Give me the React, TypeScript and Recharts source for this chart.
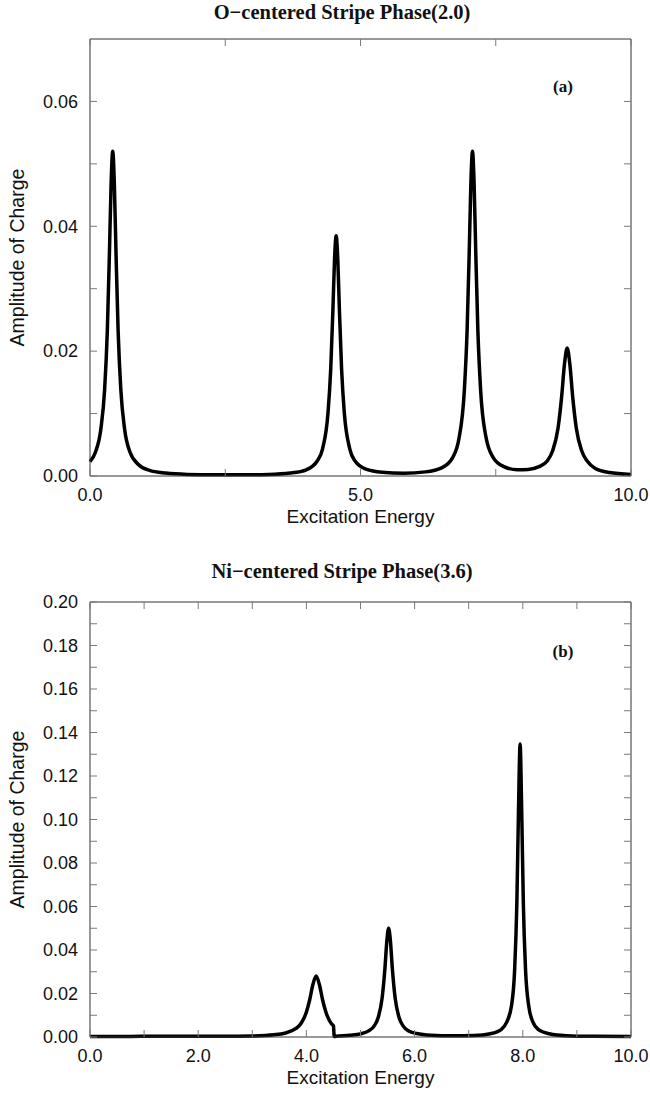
import { LineChart, Line, XAxis, YAxis, ReferenceLine } from "recharts";

// panel (a): O-centered stripe phase
const energyA = [
  0, 0.1, 0.2, 0.27, 0.32, 0.36, 0.39, 0.42, 0.45, 0.48, 0.52, 0.57, 0.64, 0.74, 0.9, 1.1, 1.4, 1.8,
  2.3, 2.8, 3.3, 3.7, 4.0, 4.2, 4.3, 4.4, 4.45, 4.49, 4.52, 4.55, 4.58, 4.61, 4.65, 4.7, 4.8, 4.9,
  5.1, 5.4, 5.8, 6.2, 6.5, 6.7, 6.82, 6.92, 6.97, 7.01, 7.04, 7.07, 7.1, 7.13, 7.17, 7.22, 7.32,
  7.45, 7.65, 7.9, 8.1, 8.3, 8.45, 8.55, 8.65, 8.72, 8.77, 8.82, 8.87, 8.92, 8.99, 9.09, 9.19, 9.34,
  9.6, 10,
];
const amplitudeA = [
  0.0023, 0.0038, 0.0075, 0.0138, 0.0232, 0.036, 0.0468, 0.052, 0.0468, 0.036, 0.0232, 0.0138,
  0.0075, 0.0038, 0.0018, 0.0009, 0.00047, 0.00026, 0.0002, 0.0002, 0.00025, 0.00047, 0.001, 0.0024,
  0.0044, 0.0102, 0.0172, 0.0266, 0.0347, 0.0385, 0.0347, 0.0266, 0.0172, 0.0102, 0.0044, 0.0024,
  0.0011, 0.0006, 0.00046, 0.00066, 0.0013, 0.0029, 0.006, 0.0138, 0.0232, 0.036, 0.0468, 0.052,
  0.0468, 0.036, 0.0232, 0.0138, 0.0062, 0.003, 0.0015, 0.001, 0.00105, 0.0015, 0.0024, 0.004,
  0.0076, 0.0129, 0.0179, 0.0205, 0.0179, 0.0129, 0.0076, 0.004, 0.0024, 0.0012, 0.00055, 0.00025,
];
const xTicksA = [0, 2.5, 5, 7.5, 10];
const xLabelsA = [0, 5, 10];
const yTicksA = [0, 0.01, 0.02, 0.03, 0.04, 0.05, 0.06];
const yLabelsA = [0, 0.02, 0.04, 0.06];

// panel (b): Ni-centered stripe phase
const energyB = [
  0, 0.5, 1, 1.5, 2, 2.5, 3, 3.4, 3.6, 3.8, 3.9, 4.0, 4.06, 4.12, 4.18, 4.24, 4.3, 4.36, 4.46, 4.5,
  4.515, 4.55, 4.8, 5.0, 5.15, 5.25, 5.33, 5.4, 5.45, 5.49, 5.52, 5.55, 5.59, 5.64, 5.71, 5.79, 5.89,
  6.04, 6.3, 6.7, 7.1, 7.4, 7.6, 7.7, 7.79, 7.85, 7.89, 7.92, 7.95, 7.98, 8.01, 8.05, 8.11, 8.19,
  8.29, 8.49, 8.8, 9.3, 10,
];
const amplitudeB = [
  0.0002, 0.0002, 0.0003, 0.0003, 0.0003, 0.0003, 0.00045, 0.001, 0.00175, 0.0038, 0.0062, 0.0115,
  0.017, 0.0241, 0.028, 0.0241, 0.017, 0.0115, 0.0062, 0.0051, 0.0002, 0.0003, 0.0008, 0.00145,
  0.0028, 0.005, 0.0092, 0.018, 0.031, 0.045, 0.05, 0.045, 0.031, 0.018, 0.0092, 0.005, 0.0028,
  0.0016, 0.0008, 0.00055, 0.0007, 0.0015, 0.0034, 0.0067, 0.0142, 0.0313, 0.0615, 0.1036, 0.1347,
  0.1036, 0.0615, 0.0313, 0.0142, 0.0067, 0.0034, 0.0015, 0.0006, 0.0003, 0.0002,
];
const xTicksB = [0, 1, 2, 3, 4, 5, 6, 7, 8, 9, 10];
const xLabelsB = [0, 2, 4, 6, 8, 10];
const yTicksB = [
  0, 0.01, 0.02, 0.03, 0.04, 0.05, 0.06, 0.07, 0.08, 0.09, 0.1, 0.11, 0.12, 0.13, 0.14, 0.15, 0.16,
  0.17, 0.18, 0.19, 0.2,
];
const yLabelsB = [0, 0.02, 0.04, 0.06, 0.08, 0.1, 0.12, 0.14, 0.16, 0.18, 0.2];

const W = 650;
const SANS = "'Liberation Sans', Arial, sans-serif";
const SERIF = "'Liberation Serif', 'Times New Roman', serif";
const FRAME = "#333";
const TICK = "#7a7a7a";
const TICK_LEN = 7;

const near = (list: number[], v: number) => list.some((l) => Math.abs(l - v) < 1e-9);

interface PanelProps {
  top: number;
  height: number;
  plotTop: number;
  plotBottom: number;
  title: string;
  titleY: number;
  tag: string;
  tagY: number;
  energy: number[];
  amplitude: number[];
  yMax: number;
  xTicks: number[];
  xLabels: number[];
  yTicks: number[];
  yLabels: number[];
}

function Panel(p: PanelProps) {
  const margin = { top: p.plotTop - p.top, right: 19, left: 0, bottom: 0 };
  const xAxisHeight = p.top + p.height - p.plotBottom;
  const plotRight = W - margin.right;
  const data = p.energy.map((e, i) => ({ energy: e, amp: p.amplitude[i] }));

  const xTick = (t: any) => {
    const v = t.payload.value;
    return (
      <g>
        <line x1={t.x} x2={t.x} y1={t.y} y2={t.y - TICK_LEN} stroke={TICK} />
        <line x1={t.x} x2={t.x} y1={margin.top} y2={margin.top + TICK_LEN} stroke={TICK} />
        {near(p.xLabels, v) && (
          <text x={t.x} y={t.y + 19} dy="0.35em" textAnchor="middle" fontFamily={SANS} fontSize={18} fill="#111">
            {v.toFixed(1)}
          </text>
        )}
      </g>
    );
  };

  const yTick = (t: any) => {
    const v = t.payload.value;
    return (
      <g>
        <line x1={t.x} x2={t.x + TICK_LEN} y1={t.y} y2={t.y} stroke={TICK} />
        <line x1={plotRight} x2={plotRight - TICK_LEN} y1={t.y} y2={t.y} stroke={TICK} />
        {near(p.yLabels, v) && (
          <text x={t.x - 12} y={t.y} dy="0.35em" textAnchor="end" fontFamily={SANS} fontSize={18} fill="#111">
            {v.toFixed(2)}
          </text>
        )}
      </g>
    );
  };

  return (
    <div style={{ position: "absolute", left: 0, top: p.top, width: W, height: p.height }}>
      <div
        style={{
          position: "absolute",
          left: 92,
          width: 500,
          top: p.titleY - p.top - 13,
          lineHeight: "26px",
          textAlign: "center",
          fontFamily: SERIF,
          fontWeight: "bold",
          fontSize: 20.5,
          color: "#111",
        }}
      >
        {p.title}
      </div>
      <div
        style={{
          position: "absolute",
          left: 538,
          width: 50,
          top: p.tagY - p.top - 10,
          lineHeight: "20px",
          textAlign: "center",
          fontFamily: SERIF,
          fontWeight: "bold",
          fontSize: 17,
          color: "#111",
          zIndex: 2,
        }}
      >
        {p.tag}
      </div>
      <LineChart width={W} height={p.height} data={data} margin={margin}>
        <XAxis
          dataKey="energy"
          type="number"
          domain={[0, 10]}
          ticks={p.xTicks}
          interval={0}
          height={xAxisHeight}
          tickSize={0}
          tickMargin={0}
          tick={xTick}
          axisLine={{ stroke: FRAME }}
          label={{
            value: "Excitation Energy",
            position: "insideTop",
            offset: 34,
            fontFamily: SANS,
            fontSize: 19,
            fill: "#111",
          }}
        />
        <YAxis
          type="number"
          domain={[0, p.yMax]}
          ticks={p.yTicks}
          interval={0}
          width={90}
          tickSize={0}
          tickMargin={0}
          tick={yTick}
          axisLine={{ stroke: FRAME }}
          label={{
            value: "Amplitude of Charge",
            angle: -90,
            position: "insideLeft",
            offset: 17,
            fontFamily: SANS,
            fontSize: 19.5,
            fill: "#111",
            style: { textAnchor: "middle" },
          }}
        />
        <ReferenceLine y={p.yMax} stroke={FRAME} />
        <ReferenceLine x={10} stroke={FRAME} />
        <Line
          type="monotone"
          dataKey="amp"
          stroke="#000"
          strokeWidth={3.5}
          dot={false}
          isAnimationActive={false}
        />
      </LineChart>
    </div>
  );
}

export default function App() {
  return (
    <div style={{ position: "absolute", left: 0, top: 0, width: W, height: 1096, background: "#fff" }}>
      <Panel
        top={0}
        height={545}
        plotTop={39}
        plotBottom={476}
        title="O−centered Stripe Phase(2.0)"
        titleY={12}
        tag="(a)"
        tagY={87}
        energy={energyA}
        amplitude={amplitudeA}
        yMax={0.07}
        xTicks={xTicksA}
        xLabels={xLabelsA}
        yTicks={yTicksA}
        yLabels={yLabelsA}
      />
      <Panel
        top={545}
        height={551}
        plotTop={602}
        plotBottom={1037}
        title="Ni−centered Stripe Phase(3.6)"
        titleY={571}
        tag="(b)"
        tagY={652}
        energy={energyB}
        amplitude={amplitudeB}
        yMax={0.2}
        xTicks={xTicksB}
        xLabels={xLabelsB}
        yTicks={yTicksB}
        yLabels={yLabelsB}
      />
    </div>
  );
}
